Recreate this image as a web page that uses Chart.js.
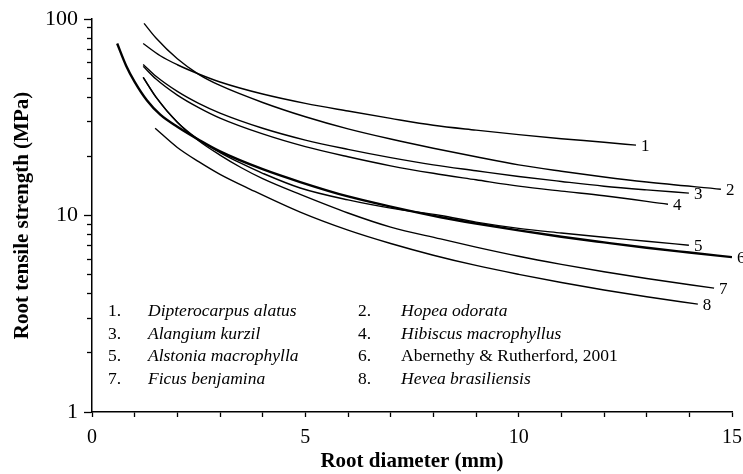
<!DOCTYPE html>
<html>
<head>
<meta charset="utf-8">
<script src="https://cdn.jsdelivr.net/npm/chart.js@4.4.1/dist/chart.umd.min.js"></script>
<style>
  html, body { margin: 0; padding: 0; background: #fff; }
  #wrap { width: 743px; height: 474px; position: relative; }
</style>
</head>
<body>
<div id="wrap"><canvas id="c" width="743" height="474"></canvas></div>
<script>
// ---------- data ----------
const seriesNames = [
  "Dipterocarpus alatus", "Hopea odorata", "Alangium kurzil", "Hibiscus macrophyllus",
  "Alstonia macrophylla", "Abernethy & Rutherford, 2001", "Ficus benjamina", "Hevea brasiliensis"
];
const endLabels = ["1", "2", "3", "4", "5", "6", "7", "8"];

const x1 = [1.2, 1.6, 2.0, 2.5, 3.0, 4.0, 5.0, 6.0, 7.0, 8.0, 9.0, 10.0, 11.0, 12.0, 12.75];
const y1 = [75, 65, 58.5, 52.5, 47.8, 41.5, 37.2, 34.0, 31.2, 28.8, 27.2, 25.8, 24.6, 23.6, 22.8];

const x2 = [1.22, 1.5, 2.0, 2.5, 3.0, 4.0, 5.0, 6.0, 7.0, 8.0, 9.0, 10.0, 11.0, 12.0, 13.0, 14.74];
const y2 = [95, 80, 62.7, 52.3, 45.9, 37.6, 31.8, 27.6, 24.5, 22.0, 19.9, 18.1, 16.8, 15.7, 14.8, 13.6];

const x3 = [1.2, 1.5, 2.0, 2.5, 3.0, 4.0, 5.0, 6.0, 7.0, 8.0, 9.0, 10.0, 11.0, 12.0, 13.0, 13.99];
const y3 = [58.7, 51.1, 42.8, 37.2, 33.2, 27.8, 24.2, 21.7, 19.7, 18.1, 16.9, 15.8, 14.9, 14.1, 13.5, 13.0];

const x4 = [1.2, 1.5, 2.0, 2.5, 3.0, 4.0, 5.0, 6.0, 7.0, 8.0, 9.0, 10.0, 11.0, 12.0, 13.5];
const y4 = [57.4, 49.5, 41.0, 35.4, 31.3, 26.0, 22.4, 19.9, 17.9, 16.4, 15.2, 14.1, 13.3, 12.6, 11.4];

const x5 = [1.2, 1.5, 2.0, 2.5, 3.0, 3.5, 4.0, 4.88, 6.0, 7.0, 8.17, 9.0, 10.0, 11.0, 12.0, 13.0, 13.99];
const y5 = [50.4, 40.0, 29.8, 24.3, 20.9, 18.4, 16.4, 13.8, 12.0, 10.9, 10.0, 9.25, 8.6, 8.15, 7.75, 7.4, 7.06];

const x6 = [0.59, 0.8, 1.0, 1.29, 1.6, 2.0, 2.53, 3.0, 4.0, 4.88, 6.0, 7.0, 8.17, 9.0, 10.0, 11.0, 12.0, 13.0, 14.0, 15.0];
const y6 = [75, 57.9, 47.9, 38.5, 32.6, 28.3, 24.1, 21.2, 17.2, 14.8, 12.5, 11.1, 9.8, 9.1, 8.4, 7.8, 7.3, 6.85, 6.48, 6.14];

const x7 = [1.2, 1.5, 2.0, 2.5, 3.0, 3.5, 4.0, 4.88, 6.0, 7.0, 8.17, 9.0, 10.0, 11.0, 12.0, 13.0, 14.58];
const y7 = [50.4, 40.0, 29.8, 24.0, 20.3, 17.5, 15.4, 12.8, 10.3, 8.73, 7.6, 6.9, 6.2, 5.64, 5.17, 4.78, 4.27];

const x8 = [1.48, 2.0, 2.5, 3.0, 3.71, 4.88, 6.0, 7.0, 8.0, 9.0, 10.0, 11.0, 12.0, 13.0, 14.2];
const y8 = [27.8, 22.2, 18.8, 16.2, 13.6, 10.4, 8.42, 7.2, 6.28, 5.57, 5.02, 4.56, 4.18, 3.86, 3.54];

const xTickValues = [0, 1, 2, 3, 4, 5, 6, 7, 8, 9, 10, 11, 12, 13, 14, 15];
const xLabelValues = [0, 5, 10, 15];
const yMajorTicks = [1, 10, 100];
const yMinorTicks = [2, 3, 4, 5, 6, 7, 8, 9, 20, 30, 40, 50, 60, 70, 80, 90];

// ---------- build ----------
const xs = [x1, x2, x3, x4, x5, x6, x7, x8];
const ys = [y1, y2, y3, y4, y5, y6, y7, y8];
const FONT = '"Liberation Serif", "Times New Roman", serif';
Chart.defaults.font.family = FONT;
Chart.defaults.color = '#000';

const datasets = seriesNames.map((name, i) => ({
  label: name,
  data: xs[i].map((x, j) => ({ x: x, y: ys[i][j] })),
  borderColor: '#000',
  borderWidth: i === 5 ? 2.4 : 1.4,
  pointRadius: 0,
  fill: false,
  tension: 0.4,
  cubicInterpolationMode: 'monotone'
}));

function noScalePadding(s) {
  s.paddingLeft = 0; s.paddingRight = 0; s.paddingTop = 0; s.paddingBottom = 0;
}

const endLabelPlugin = {
  id: 'endLabels',
  afterDatasetsDraw(chart) {
    const ctx = chart.ctx;
    ctx.save();
    ctx.font = '17px ' + FONT;
    ctx.fillStyle = '#000';
    ctx.textAlign = 'left';
    ctx.textBaseline = 'middle';
    chart.data.datasets.forEach((ds, i) => {
      const meta = chart.getDatasetMeta(i);
      const pt = meta.data[meta.data.length - 1];
      ctx.fillText(endLabels[i], pt.x + 5, pt.y + 1);
    });
    ctx.restore();
  }
};

const innerLegendPlugin = {
  id: 'innerLegend',
  afterDraw(chart) {
    const ctx = chart.ctx;
    const a = chart.chartArea;
    ctx.save();
    ctx.fillStyle = '#000';
    ctx.textAlign = 'left';
    ctx.textBaseline = 'alphabetic';
    seriesNames.forEach((name, i) => {
      const col = i % 2, row = Math.floor(i / 2);
      const nx = a.left + (col ? 266 : 16);
      const tx = a.left + (col ? 309 : 56);
      const by = a.top + 297 + row * 22.7;
      ctx.font = '17.5px ' + FONT;
      ctx.fillText((i + 1) + '.', nx, by);
      ctx.font = (i === 5 ? '' : 'italic ') + '17.5px ' + FONT;
      ctx.fillText(name, tx, by);
    });
    ctx.restore();
  }
};

new Chart(document.getElementById('c'), {
  type: 'line',
  data: { datasets: datasets },
  plugins: [endLabelPlugin, innerLegendPlugin],
  options: {
    responsive: false,
    animation: false,
    devicePixelRatio: 1,
    layout: { autoPadding: false, padding: { left: 0, right: 11, top: 19, bottom: 0 } },
    plugins: { legend: { display: false }, tooltip: { enabled: false } },
    scales: {
      x: {
        type: 'linear', position: 'bottom', min: 0, max: 15,
        afterBuildTicks: s => { s.ticks = xTickValues.map(v => ({ value: v })); },
        afterFit: s => { s.height = 62; noScalePadding(s); },
        ticks: {
          autoSkip: false, maxRotation: 0, padding: 9, color: '#000',
          font: { size: 20 },
          callback: v => (xLabelValues.includes(v) ? String(v) : '')
        },
        grid: { drawOnChartArea: false, drawTicks: true, tickLength: 5, tickWidth: 1.3, tickColor: '#000' },
        border: { display: true, color: '#000', width: 1.5 },
        title: { display: true, text: 'Root diameter (mm)', color: '#000',
                 font: { size: 21, weight: 'bold' }, padding: { top: 0, bottom: 0 } }
      },
      y: {
        type: 'logarithmic', position: 'left', min: 1, max: 100, weight: 1,
        afterBuildTicks: s => { s.ticks = yMajorTicks.map(v => ({ value: v, major: true })); },
        afterFit: s => { s.width = 92; noScalePadding(s); },
        ticks: { autoSkip: false, padding: 6, color: '#000', font: { size: 22 }, callback: v => String(v) },
        grid: { drawOnChartArea: false, drawTicks: true, tickLength: 8, tickWidth: 1.3, tickColor: '#000' },
        border: { display: true, color: '#000', width: 1.5 },
        title: { display: true, text: 'Root tensile strength (MPa)', color: '#000',
                 font: { size: 21, weight: 'bold' }, padding: { top: 10, bottom: 0 } }
      },
      yMinor: {
        type: 'logarithmic', position: 'left', min: 1, max: 100, weight: 0,
        afterBuildTicks: s => { s.ticks = yMinorTicks.map(v => ({ value: v })); },
        afterFit: s => { s.width = 0; noScalePadding(s); },
        ticks: { display: false },
        grid: { drawOnChartArea: false, drawTicks: true, tickLength: 5, tickWidth: 1.3, tickColor: '#000' },
        border: { display: false }
      }
    }
  }
});
</script>
</body>
</html>
